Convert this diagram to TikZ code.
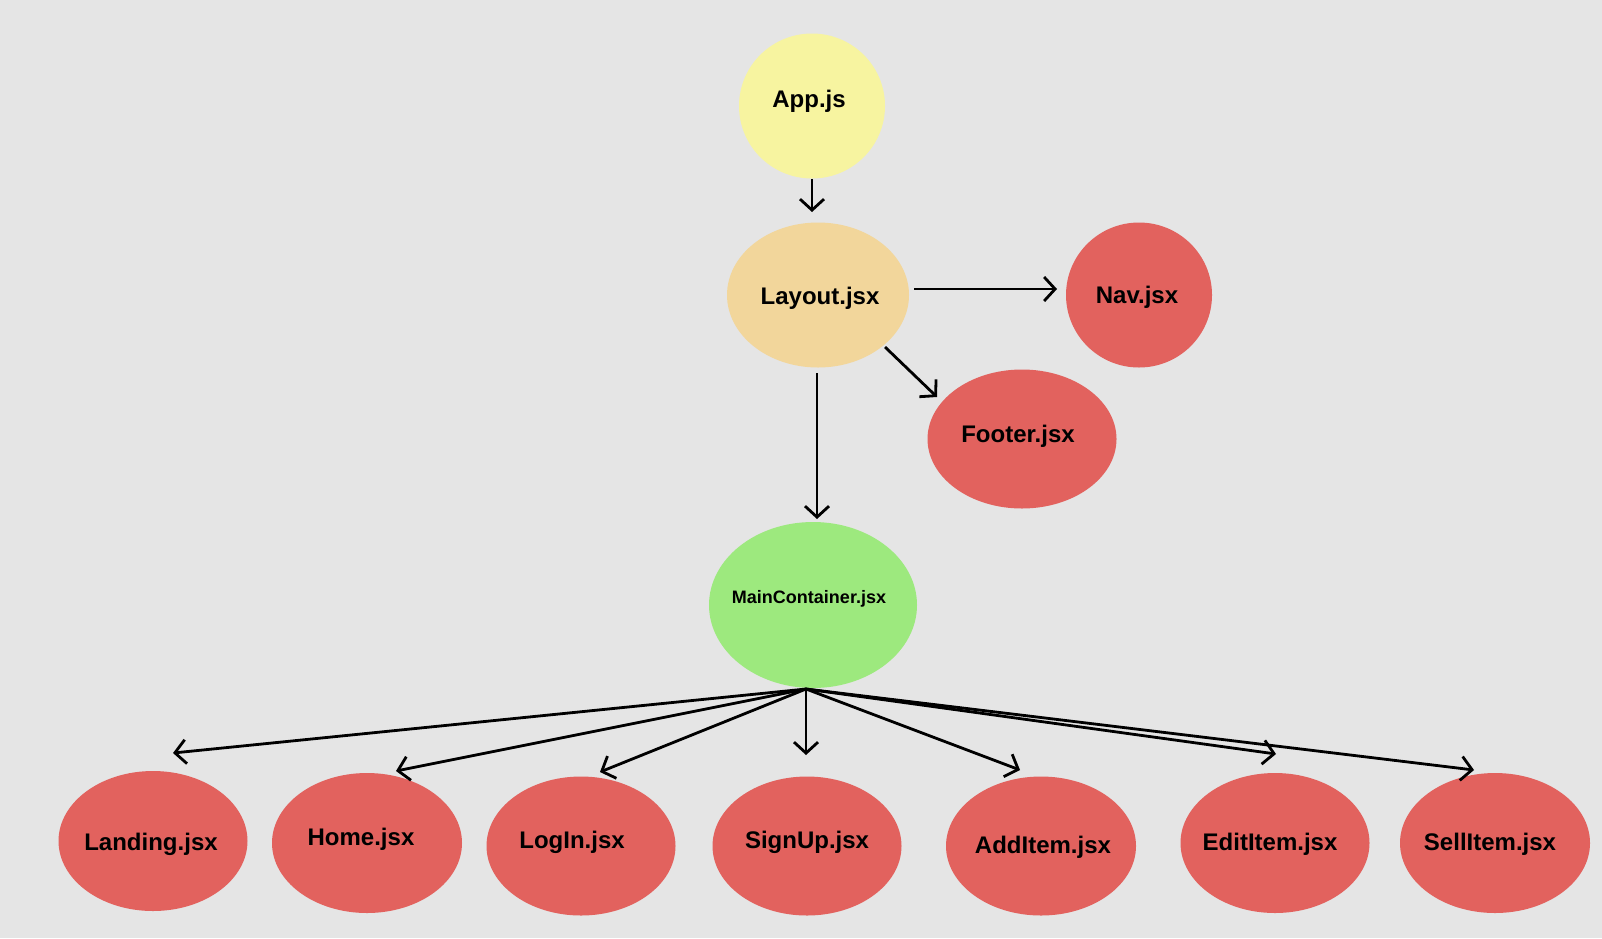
\documentclass[tikz,border=0pt]{standalone}
\usepackage{fontspec}
\setmainfont{Liberation Sans}
\usetikzlibrary{shapes.geometric,arrows.meta}
\definecolor{bgc}{RGB}{229,229,229}
\definecolor{appc}{RGB}{247,244,160}
\definecolor{layc}{RGB}{242,214,155}
\definecolor{redc}{RGB}{226,98,94}
\definecolor{grnc}{RGB}{157,233,126}
\tikzset{
  blob/.style={ellipse, inner sep=0pt, draw=none},
  lbl/.style={anchor=base, inner sep=0pt, font=\fontsize{24}{28}\selectfont\bfseries},
  conn/.style={line width=2.8pt, -{Straight Barb[length=11pt,width=24pt,line width=2.8pt]}}
}
\begin{document}
\begin{tikzpicture}[x=1pt,y=-1pt]
\fill[bgc] (0,0) rectangle (1602,938);
\useasboundingbox (0,0) rectangle (1602,938);
% nodes
\node[blob, fill=appc, minimum width=146pt, minimum height=145pt] (app) at (812,106) {};
\node[blob, fill=layc, minimum width=182pt, minimum height=145pt] (lay) at (818,295) {};
\node[blob, fill=redc, minimum width=146pt, minimum height=145pt] (nav) at (1139,295) {};
\node[blob, fill=redc, minimum width=189pt, minimum height=139pt] (foot) at (1022,439) {};
\node[blob, fill=grnc, minimum width=208pt, minimum height=166pt] (main) at (813,605) {};
\node[blob, fill=redc, minimum width=189pt, minimum height=140pt] (land) at (153,841) {};
\node[blob, fill=redc, minimum width=190pt, minimum height=140pt] (home) at (367,843) {};
\node[blob, fill=redc, minimum width=189pt, minimum height=139pt] (login) at (581,846) {};
\node[blob, fill=redc, minimum width=189pt, minimum height=139pt] (signup) at (807,846) {};
\node[blob, fill=redc, minimum width=190pt, minimum height=139pt] (add) at (1041,846) {};
\node[blob, fill=redc, minimum width=189pt, minimum height=140pt] (edit) at (1275,843) {};
\node[blob, fill=redc, minimum width=190pt, minimum height=140pt] (sell) at (1495,843) {};
% labels
\node[lbl] (appT) at (809,107) {App.js};
\node[lbl] (layT) at (820,304) {Layout.jsx};
\node[lbl] (navT) at (1137,303) {Nav.jsx};
\node[lbl] (footT) at (1018,442) {Footer.jsx};
\node[lbl, font=\fontsize{18}{22}\selectfont\bfseries] (mainT) at (809,603) {MainContainer.jsx};
\node[lbl] (landT) at (151,850) {Landing.jsx};
\node[lbl] (homeT) at (361,845) {Home.jsx};
\node[lbl] (loginT) at (572,848) {LogIn.jsx};
\node[lbl] (signupT) at (807,848) {SignUp.jsx};
\node[lbl] (addT) at (1043,853) {AddItem.jsx};
\node[lbl] (editT) at (1270,850) {EditItem.jsx};
\node[lbl] (sellT) at (1490,850) {SellItem.jsx};
% connector end points
\coordinate (a1) at (812,179); \coordinate (a2) at (812,212);
\coordinate (n1) at (914,289); \coordinate (n2) at (1057,289);
\coordinate (f1) at (885,347); \coordinate (f2) at (937,397);
\coordinate (m1) at (817,373); \coordinate (m2) at (817,519);
\coordinate (fan) at (806,689);
\coordinate (tland) at (173,753);
\coordinate (thome) at (396,771);
\coordinate (tlogin) at (600,772);
\coordinate (tsign) at (806,755);
\coordinate (tadd) at (1020,770);
\coordinate (tedit) at (1276,754);
\coordinate (tsell) at (1474,770);
% connectors
\draw[conn] (a1) -- (a2);
\draw[conn] (n1) -- (n2);
\draw[conn] (f1) -- (f2);
\draw[conn] (m1) -- (m2);
\draw[conn] (fan) -- (tland);
\draw[conn] (fan) -- (thome);
\draw[conn] (fan) -- (tlogin);
\draw[conn] (fan) -- (tsign);
\draw[conn] (fan) -- (tadd);
\draw[conn] (fan) -- (tedit);
\draw[conn] (fan) -- (tsell);
\end{tikzpicture}
\end{document}
